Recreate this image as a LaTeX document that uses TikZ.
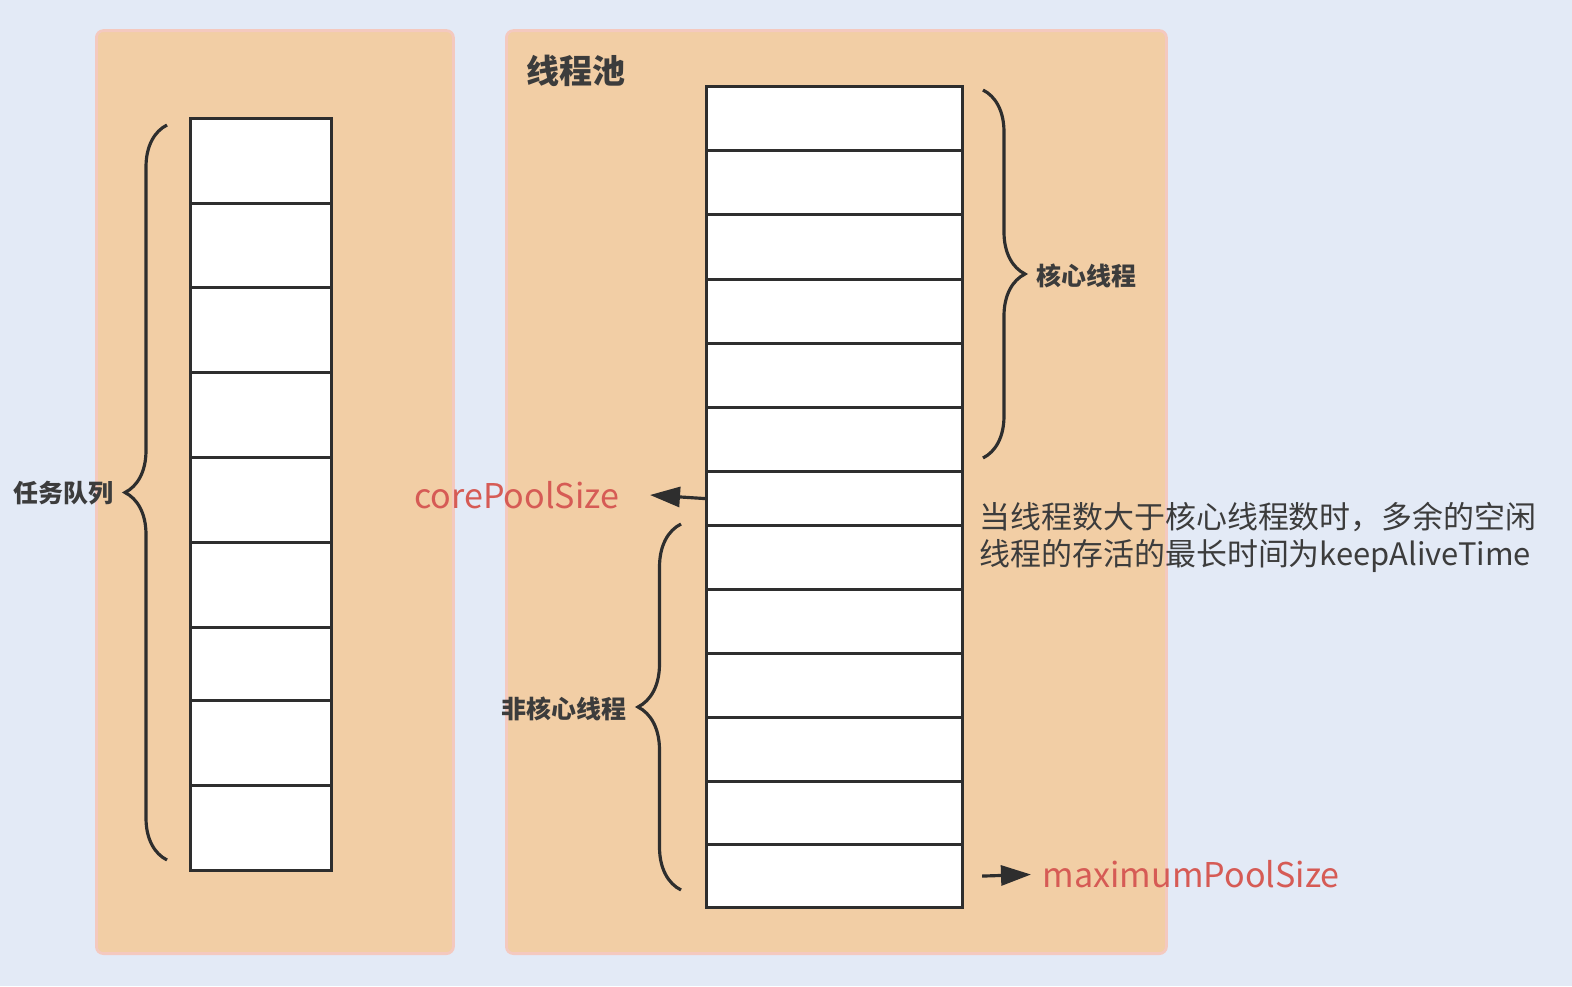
\documentclass[tikz,border=0pt]{standalone}
\usepackage{fontspec}
\setmainfont{Noto Sans CJK SC}
\usepackage{tikz}
\usetikzlibrary{arrows.meta, decorations.pathreplacing}

\definecolor{bgblue}{HTML}{E3EAF6}
\definecolor{panelfill}{HTML}{F2CEA5}
\definecolor{paneledge}{HTML}{F4C9BF}
\definecolor{ink}{HTML}{2E2E2E}
\definecolor{txt}{HTML}{3C3C3C}
\definecolor{redtxt}{HTML}{D65B55}

\begin{document}
\begin{tikzpicture}[
    panel/.style={draw=paneledge, fill=panelfill, line width=0.8pt, rounded corners=2pt, inner sep=0pt, anchor=south west},
    cell/.style={draw=ink, fill=white, line width=0.9pt, inner sep=0pt, minimum width=#1, anchor=north west},
    brc/.style={draw=ink, line width=0.9pt, decorate, decoration={brace, amplitude=#1}},
    arr/.style={draw=ink, line width=0.9pt, -{Triangle[length=3mm, width=2mm]}},
    lbl/.style={text=txt, font=\fontsize{7.1pt}{8pt}\selectfont\bfseries, inner sep=0pt},
    red/.style={text=redtxt, font=\fontsize{9.7pt}{12pt}\selectfont, inner sep=0pt}
]
    \fill[bgblue] (0,0) rectangle (15.72,9.86);
    \useasboundingbox (0,0) rectangle (15.72,9.86);

    % two panels
    \node[panel, minimum width=3.57cm, minimum height=9.23cm] (queue) at (0.95,0.31) {};
    \node[panel, minimum width=6.60cm, minimum height=9.23cm] (pool) at (5.05,0.31) {};
    \node[lbl, anchor=west, font=\fontsize{9.4pt}{10pt}\selectfont\bfseries] (pooltitle) at (5.26,9.15) {线程池};

    % task queue
    \foreach \i/\t/\h in {1/8.69/0.85, 2/7.84/0.84, 3/7.00/0.85, 4/6.15/0.85, 5/5.30/0.85,
                          6/4.45/0.85, 7/3.60/0.73, 8/2.87/0.85, 9/2.02/0.85}
        \node[cell=1.41cm, minimum height=\h cm] (q\i) at (1.89,\t) {};

    % threads
    \foreach \i/\t/\h in {1/9.01/0.64, 2/8.37/0.64, 3/7.73/0.65, 4/7.08/0.64, 5/6.44/0.64,
                          6/5.80/0.64, 7/5.16/0.54, 8/4.62/0.64, 9/3.98/0.64, 10/3.34/0.64,
                          11/2.70/0.64, 12/2.06/0.63, 13/1.43/0.63}
        \node[cell=2.56cm, minimum height=\h cm] (t\i) at (7.05,\t) {};

    % braces
    \draw[brc=0.42cm] (1.67,1.26) -- (1.67,8.61);
    \draw[brc=0.42cm] (9.83,8.96) -- (9.83,5.28);
    \draw[brc=0.43cm] (6.81,0.96) -- (6.81,4.62);

    \node[lbl, anchor=east] (queuelbl) at (1.14,4.93) {任务队列};
    \node[lbl, anchor=west] (corelbl) at (10.36,7.10) {核心线程};
    \node[lbl, anchor=east] (extralbl) at (6.27,2.77) {非核心线程};

    % sizes
    \node[red, anchor=east] (coresize) at (6.20,4.91) {corePoolSize};
    \node[red, anchor=west] (maxsize) at (10.42,1.115) {maximumPoolSize};
    \draw[arr] (t7.west) -- ([xshift=3mm]coresize.east);
    \draw[arr] ([xshift=1.8mm]t13.east) -- ([xshift=-1.1mm]maxsize.west);

    \node[text=txt, anchor=west, align=left, inner sep=0pt,
          font=\fontsize{8.8pt}{10.5pt}\selectfont] (idle) at (9.79,4.49)
        {当线程数大于核心线程数时，多余的空闲\\线程的存活的最长时间为keepAliveTime};
\end{tikzpicture}
\end{document}
